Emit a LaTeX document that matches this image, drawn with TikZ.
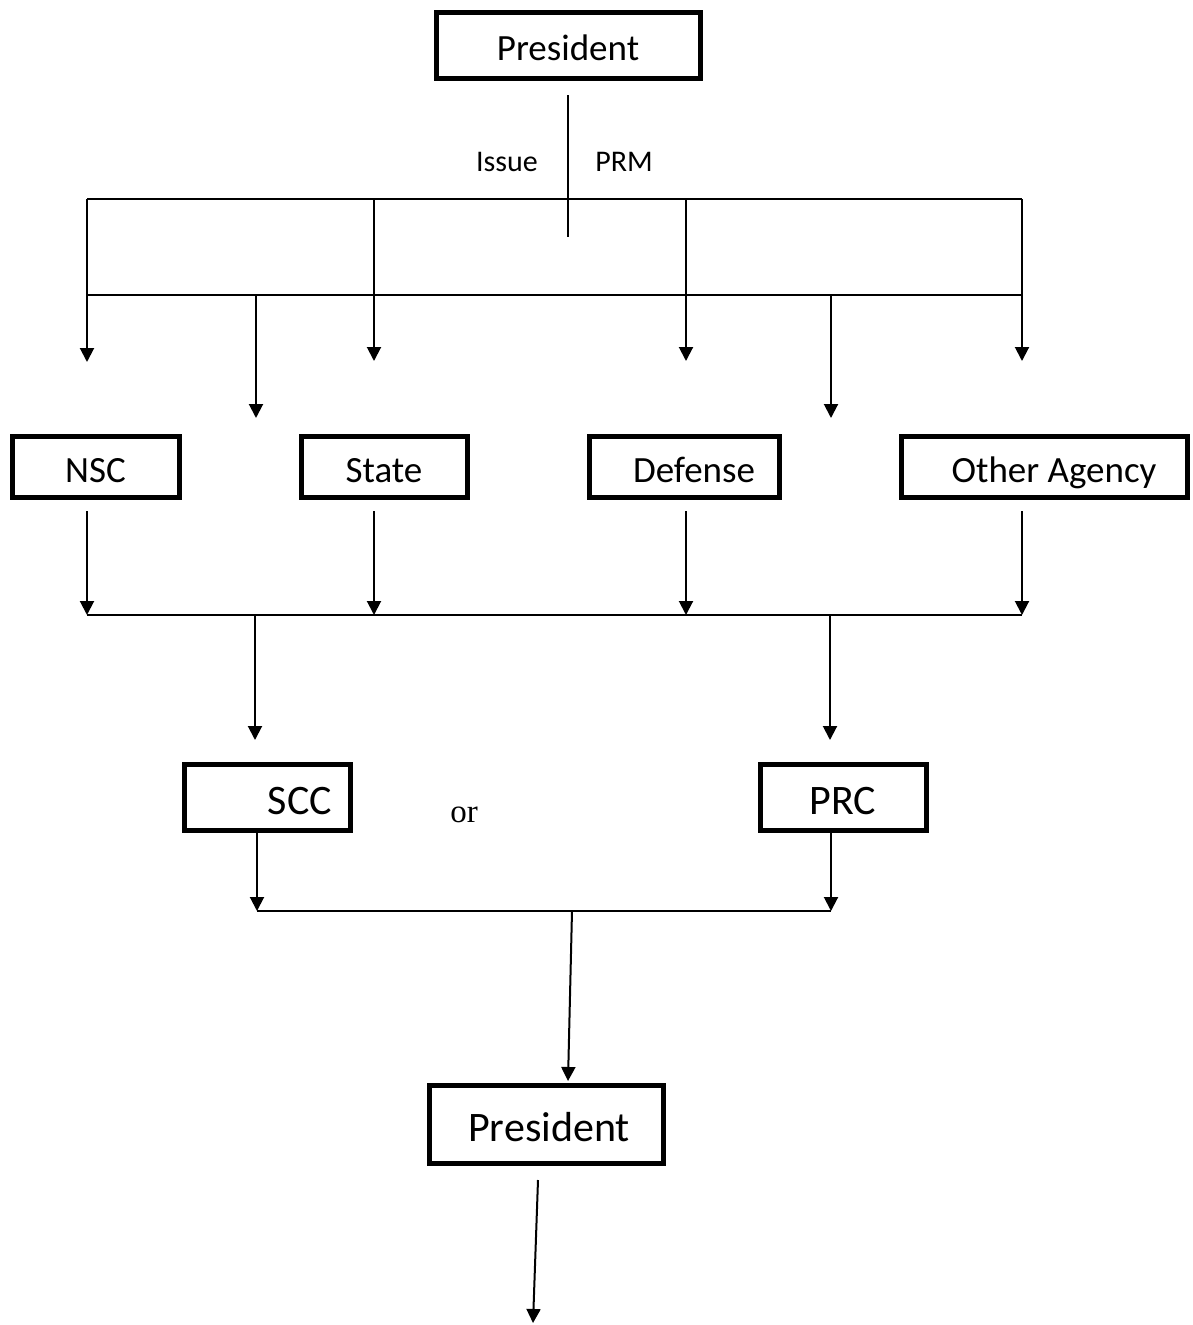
\documentclass[tikz,border=0pt]{standalone}
\usepackage{fontspec}
\setmainfont{Carlito}
\newfontfamily\timesfont{Liberation Serif}
\usetikzlibrary{arrows.meta}
\begin{document}
\begin{tikzpicture}[x=1pt,y=-1pt,
  box/.style={draw,line width=5pt,inner sep=0pt,text depth=0pt},
  big/.style={font=\fontsize{42}{46}\selectfont,text height=34pt},
  mid/.style={font=\fontsize{37}{41}\selectfont,text height=31pt},
  conn/.style={line width=2pt},
  arr/.style={line width=2pt,-{Triangle[width=14pt,length=14pt]}}]
\useasboundingbox (0,0) rectangle (1193,1325);

% boxes
\node[box,mid,minimum width=264pt,minimum height=66pt] (p1) at (568,45) {President};
\node[box,mid,minimum width=167pt,minimum height=61pt] (nsc) at (95.5,466.5) {NSC};
\node[box,mid,minimum width=166pt,minimum height=61pt] (state) at (384,466.5) {State};
\node[box,mid,minimum width=190pt,minimum height=61pt] (def) at (684,466.5) {\hspace*{20pt}Defense};
\node[box,mid,minimum width=286pt,minimum height=61pt] (oth) at (1044,466.5) {\hspace*{20pt}Other Agency};
\node[box,big,minimum width=166pt,minimum height=66pt] (scc) at (267,797) {\hspace*{66pt}SCC};
\node[box,big,minimum width=166pt,minimum height=66pt] (prc) at (843,797) {PRC};
\node[box,big,minimum width=234pt,minimum height=78pt] (p2) at (546,1124) {\hspace*{6pt}President};

% labels
\node[font=\fontsize{30}{34}\selectfont] (issue) at (507,162) {Issue};
\node[font=\fontsize{30}{34}\selectfont] (prm) at (624,162) {PRM};
\node[font=\fontsize{33}{36}\selectfont\timesfont] (or) at (464,815) {or};

% coordinates
\coordinate (ps) at (568,95);
\coordinate (pe) at (568,237);
\coordinate (a1) at (87,199);  \coordinate (a2) at (374,199);
\coordinate (a3) at (686,199); \coordinate (a4) at (1022,199);
\coordinate (b1) at (87,295);  \coordinate (b2) at (256,295);
\coordinate (b3) at (831,295); \coordinate (b4) at (1022,295);
\coordinate (t1) at (87,362);  \coordinate (t2) at (374,361);
\coordinate (t3) at (686,361); \coordinate (t4) at (1022,361);
\coordinate (t5) at (256,418); \coordinate (t6) at (831,418);
\coordinate (n1) at (87,511);  \coordinate (n2) at (374,511);
\coordinate (n3) at (686,511); \coordinate (n4) at (1022,511);
\coordinate (m1) at (87,615);  \coordinate (m2) at (374,615);
\coordinate (m3) at (686,615); \coordinate (m4) at (1022,615);
\coordinate (c1) at (255,615); \coordinate (c2) at (830,615);
\coordinate (d1) at (255,740); \coordinate (d2) at (830,740);
\coordinate (s1) at (257,832); \coordinate (s2) at (831,832);
\coordinate (e1) at (257,911); \coordinate (e2) at (831,911);
\coordinate (f1) at (572,911); \coordinate (f2) at (568,1081);
\coordinate (g1) at (538,1180); \coordinate (g2) at (533,1323);

% connectors
\draw[conn] (ps) -- (pe);
\draw[conn] (a1) -- (a4);
\draw[conn] (b1) -- (b4);
\draw[arr] (a1) -- (t1);
\draw[arr] (a2) -- (t2);
\draw[arr] (a3) -- (t3);
\draw[arr] (a4) -- (t4);
\draw[arr] (b2) -- (t5);
\draw[arr] (b3) -- (t6);
\draw[arr] (n1) -- (m1);
\draw[arr] (n2) -- (m2);
\draw[arr] (n3) -- (m3);
\draw[arr] (n4) -- (m4);
\draw[conn] (m1) -- (m4);
\draw[arr] (c1) -- (d1);
\draw[arr] (c2) -- (d2);
\draw[arr] (s1) -- (e1);
\draw[arr] (s2) -- (e2);
\draw[conn] (e1) -- (e2);
\draw[arr] (f1) -- (f2);
\draw[arr] (g1) -- (g2);
\end{tikzpicture}
\end{document}
